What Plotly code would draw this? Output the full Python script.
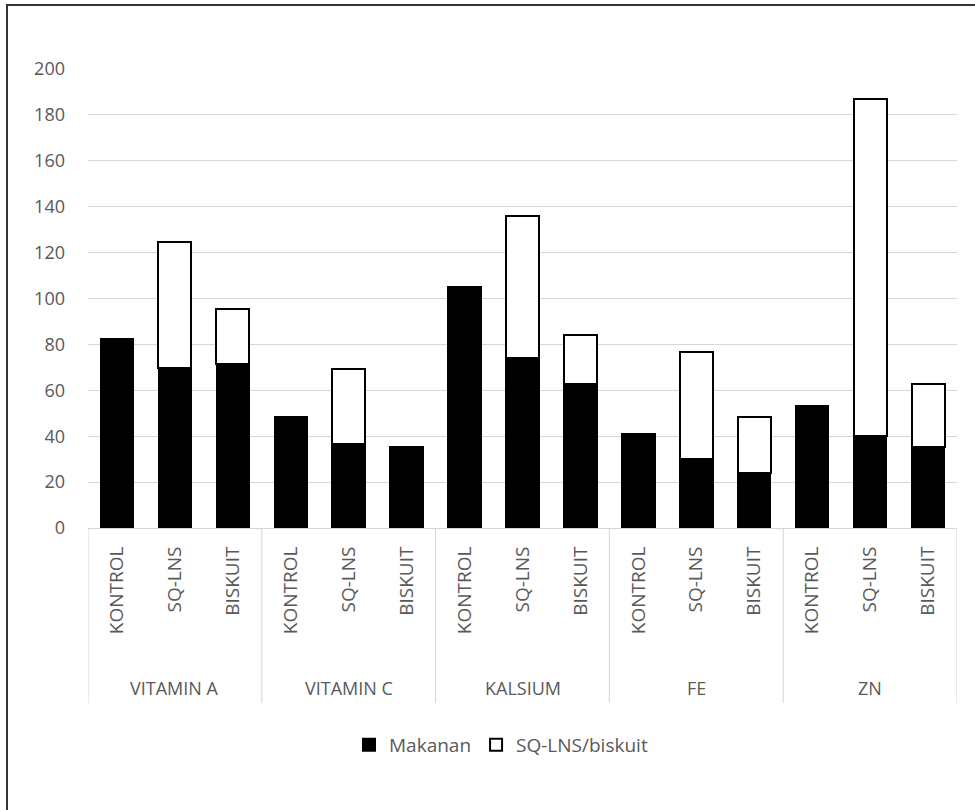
import plotly.graph_objects as go

nutrients = ["VITAMIN A", "VITAMIN C", "KALSIUM", "FE", "ZN"]
groups = ["KONTROL", "SQ-LNS", "BISKUIT"]

# Stacked values per nutrient, order KONTROL, SQ-LNS, BISKUIT
makanan = [82.5, 69.6, 71.5,
           48.5, 36.5, 35.4,
           105.1, 73.9, 62.7,
           41.0, 29.9, 23.8,
           53.3, 40.1, 35.2]
suplemen = [0, 55.2, 23.9,
            0, 32.7, 0,
            0, 62.2, 21.4,
            0, 46.7, 24.4,
            0, 146.7, 27.4]

y_ticks = [0, 20, 40, 60, 80, 100, 120, 140, 160, 180, 200]

n_g = len(groups)
x_pos = list(range(len(nutrients) * n_g))
x_text = [g for _ in nutrients for g in groups]

W, H = 975, 810
ML, MR, MT, MB = 88, 18, 69, 282
pw = W - ML - MR
ph = H - MT - MB

font_family = "Open Sans, Liberation Sans, sans-serif"
grey = "#595959"
line_grey = "#d9d4d1"

fig = go.Figure()
fig.add_trace(go.Bar(
    x=x_pos, y=makanan, name="Makanan",
    marker=dict(color="black", line=dict(color="black", width=1.5)),
))
fig.add_trace(go.Bar(
    x=x_pos, y=suplemen, name="SQ-LNS/biskuit",
    marker=dict(color="white", line=dict(color="black", width=2)),
))

def px_to_paper_x(px):
    return (px - ML) / pw

def px_to_paper_y(py):
    return (H - MB - py) / ph

# group dividers and group labels (positions derived from category indices)
shapes = []
annotations = []
for i, nut in enumerate(nutrients):
    left = i * n_g - 0.5
    shapes.append(dict(type="line", xref="x", yref="paper",
                       x0=left, x1=left,
                       y0=0, y1=px_to_paper_y(703),
                       line=dict(color=line_grey, width=1)))
    annotations.append(dict(
        x=i * n_g + (n_g - 1) / 2, xref="x",
        y=px_to_paper_y(688), yref="paper",
        text=nut, showarrow=False,
        font=dict(size=18, color=grey, family=font_family),
        xanchor="center", yanchor="middle",
    ))
right = len(nutrients) * n_g - 0.5
shapes.append(dict(type="line", xref="x", yref="paper",
                   x0=right, x1=right, y0=0, y1=px_to_paper_y(703),
                   line=dict(color=line_grey, width=1)))

# outer frame of the picture
shapes.append(dict(
    type="rect", xref="paper", yref="paper",
    x0=px_to_paper_x(7), x1=px_to_paper_x(990),
    y0=px_to_paper_y(830), y1=px_to_paper_y(5),
    line=dict(color="#333333", width=2),
    fillcolor="rgba(0,0,0,0)",
    layer="above",
))

fig.update_layout(
    width=W, height=H,
    margin=dict(l=ML, r=MR, t=MT, b=MB, pad=0),
    barmode="stack",
    bargap=0.43,
    paper_bgcolor="white",
    plot_bgcolor="white",
    font=dict(family=font_family, color=grey, size=18),
    showlegend=True,
    legend=dict(
        orientation="h",
        x=px_to_paper_x(501), xanchor="center",
        y=px_to_paper_y(745), yanchor="middle",
        font=dict(size=19, color=grey, family=font_family),
        itemsizing="constant",
        traceorder="normal",
        itemwidth=30,
    ),
    xaxis=dict(
        range=[-0.5, right],
        tickvals=x_pos,
        ticktext=x_text,
        tickangle=-90,
        showgrid=False,
        showline=True,
        linecolor=line_grey,
        linewidth=1,
        zeroline=False,
        tickfont=dict(size=19, color=grey, family=font_family),
        ticks="",
        ticklabelstandoff=10,
    ),
    yaxis=dict(
        range=[0, 200],
        tickvals=y_ticks,
        showgrid=True,
        gridcolor="#ddd5d2",
        gridwidth=1.3,
        zeroline=False,
        showline=False,
        ticks="",
        ticklabelstandoff=22,
        tickfont=dict(size=18, color=grey, family=font_family),
    ),
    shapes=shapes,
    annotations=annotations,
)

fig.write_html("out.html")
